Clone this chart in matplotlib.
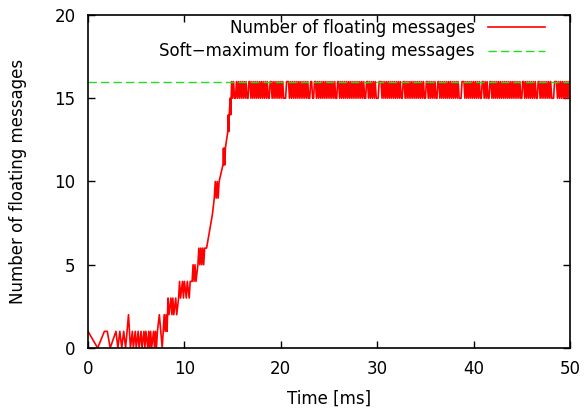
import matplotlib.pyplot as plt
import numpy as np

#### Data
# start-up phase: (time [ms], floating messages)
rampTime = [0.0, 1.0, 1.7, 2.0, 2.3, 2.9, 3.1, 3.3, 3.5, 3.7, 3.9, 4.2, 4.4, 4.6, 4.7, 4.9,
            5.0, 5.2, 5.3, 5.5, 5.6, 5.8, 5.9, 6.0, 6.2, 6.3, 6.4, 6.5, 6.6, 6.8, 6.9, 7.0,
            7.1, 7.2, 7.4, 7.7, 7.9, 8.0, 8.1, 8.2, 8.3, 8.4, 8.6, 8.7, 8.8, 8.9, 9.1, 9.2,
            9.4, 9.5, 9.6, 9.8, 9.9, 10.0, 10.2, 10.3, 10.5, 10.6, 10.8, 10.9, 11.0, 11.1,
            11.2, 11.4, 11.5, 11.6, 11.7, 11.8, 11.9, 12.0, 12.1, 12.3, 12.6, 12.9, 13.1,
            13.2, 13.3, 13.4, 13.5, 13.6, 14.0, 14.05, 14.1, 14.15, 14.2, 14.25, 14.5, 14.55,
            14.6, 14.65, 14.75, 14.8, 14.85, 14.9, 15.0, 15.1, 15.2]
rampCount = [1, 0, 1, 1, 0, 1, 0, 1, 0, 1, 0, 2, 0, 1, 0, 1,
             0, 1, 0, 1, 0, 1, 0, 1, 0, 1, 0, 1, 0, 1, 0, 1,
             0, 1, 2, 0, 2, 1, 2, 1, 3, 2, 3, 2, 3, 2, 3, 2,
             3, 4, 3, 4, 3, 4, 3, 4, 3, 4, 4, 5,
             4, 5, 4, 5, 6, 5, 6, 5, 6, 5, 6, 6, 7, 8, 9,
             10, 9, 10, 9, 10, 11, 12, 11, 12, 11, 12, 13, 14,
             13, 14, 15, 14, 15, 16, 15, 16, 15]

# steady phase: sampled every 0.1 ms, '0' -> 15 messages, '1' -> 16 messages
plateauStart = 15.3
plateauStep = 0.1
plateauBits = ("01010101010100110101" "01010101010101001101" "01010101010001110101"
               "01010101010101010011" "00110101010101010101" "01010011010101010101"
               "01010101010101001101" "01010100011101010101" "01010101010100110101"
               "01010101010101010011" "01010101001101010101" "01010101010100011101"
               "01010101010101001101" "01001101010101010101" "01010101010101010011"
               "01010101010100110101" "01010101000111010101" "01010101")

softMax = 16
xRange = (0, 50)

plateauCount = [15 + int(b) for b in plateauBits]
plateauTime = plateauStart + plateauStep * np.arange(len(plateauCount))

times = np.concatenate((rampTime, plateauTime))
counts = np.concatenate((rampCount, plateauCount))

##################
#### Plotting ####
##################
plt.rcParams['font.family'] = ['DejaVu Sans']
plt.rcParams['font.size'] = 12

fig = plt.figure(figsize=(5.84, 4.13), dpi=100)
ax = fig.add_axes([0.1507, 0.1574, 0.8253, 0.8063])

ax.plot(times, counts, c="#ff0000", lw=1.2, label="Number of floating messages")
ax.plot(xRange, [softMax, softMax], c="#22dd22", lw=1.0, ls=(0, (6, 3)),
        label="Soft\u2212maximum for floating messages")

ax.set_xlim(xRange)
ax.set_ylim(0, 20)
ax.set_xticks(np.arange(0, 51, 10))
ax.set_yticks(np.arange(0, 21, 5))
ax.tick_params(direction="in", top=True, right=True, length=5, width=1, pad=9, labelsize=12)
for s in ax.spines.values():
    s.set_linewidth(1.2)

ax.set_xlabel("Time [ms]", fontsize=12, labelpad=8)
ax.set_ylabel("Number of floating messages", fontsize=12, labelpad=20)

ax.legend(loc="upper right", bbox_to_anchor=(0.962, 1.009), frameon=False, markerfirst=False,
          handlelength=3.4, handletextpad=0.8, labelspacing=0.35, borderaxespad=0,
          fontsize=12)

fig.savefig("out.png", dpi=100)
